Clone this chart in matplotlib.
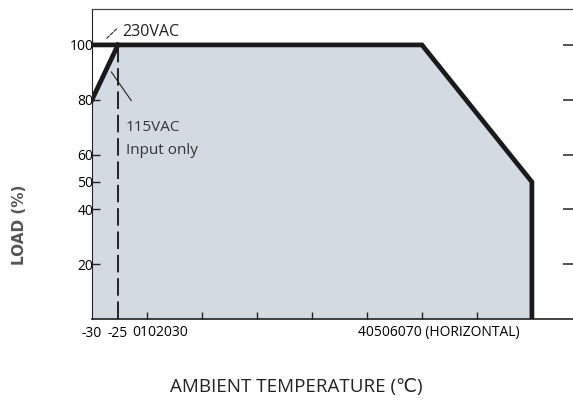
import matplotlib.pyplot as plt
import numpy as np

# данные кривой снижения нагрузки
temp_230 = [-30, 50, 70, 70]
load_230 = [100, 100, 50, 0]
temp_115 = [-30, -25]
load_115 = [80, 100]
temp_fill = [-30, -25, 50, 70]
load_fill = [80, 100, 100, 50]
cutoff_temp = -25

x_major = [-30, -25]
x_major_labels = ["-30", "-25"]
x_minor = [0, 10, 20, 30, 40, 50, 60]
y_ticks = [20, 40, 50, 60, 80, 100]
y_right_ticks = [20, 40, 60, 80, 100]

plt.rcParams['font.family'] = ['Open Sans', 'DejaVu Sans']


# шкала на рисунке неравномерная: отрезок -30..-25 и -25..0 сжаты
def fwd(t):
    t = np.asarray(t, dtype=float)
    return np.where(t < -25, (t + 30) * 5.2,
                    np.where(t < 0, 26 + (t + 25) * 29 / 25, 55 + t * 5.5))


def inv(p):
    p = np.asarray(p, dtype=float)
    return np.where(p < 26, p / 5.2 - 30,
                    np.where(p < 55, (p - 26) * 25 / 29 - 25, (p - 55) / 5.5))


fig = plt.figure(figsize=(5.73, 4.03), dpi=100)
ax = fig.add_axes([92 / 573, 1 - 319 / 403, 485 / 573, 310 / 403])
ax.set_xscale('function', functions=(fwd, inv))
ax.set_xlim(-30, 78.2)
ax.set_ylim(0, 113.1)

ax.fill_between(temp_fill, load_fill, 0, color='#d3dae2', lw=0)
ax.vlines(cutoff_temp, 0, 100, color='#222222', lw=1.4, linestyles=(0, (9, 3)))
ax.plot(temp_230, load_230, color='#1a1a1a', lw=3.4, solid_joinstyle='miter')
ax.plot(temp_115, load_115, color='#1a1a1a', lw=3.4)

# подписи
ax.annotate("", xy=(-27.6, 101.6), xytext=(-24.6, 106.5),
            arrowprops=dict(arrowstyle='-', color='#222222', lw=0.8, linestyle=(0, (3, 1.5))))
ax.text(-20.9, 104.7, "230VAC", fontsize=11.5, va='center', ha='left', color='#222222')
ax.annotate("", xy=(-26.6, 91), xytext=(-12.1, 78.8),
            arrowprops=dict(arrowstyle='-', color='#222222', lw=0.8))
ax.text(-18.1, 69.7, "115VAC", fontsize=11, va='center', ha='left', color='#333333')
ax.text(-18.1, 61.4, "Input only", fontsize=11, va='center', ha='left', color='#333333')

ax.set_xticks(x_major)
ax.set_xticklabels(x_major_labels, fontsize=10)
ax.set_xticks(x_minor, minor=True)
ax.tick_params(axis='x', which='major', length=0, pad=5)
ax.tick_params(axis='x', which='minor', direction='in', length=5, width=1, color='#222222')
tb = ax.get_xaxis_transform()
ax.text(2.3, -0.045, "0102030", transform=tb, ha='center', va='center', fontsize=10)
ax.text(53, -0.045, "40506070 (HORIZONTAL)", transform=tb, ha='center', va='center', fontsize=10)

ax.set_yticks(y_ticks)
ax.tick_params(axis='y', which='major', direction='in', length=6, width=1, pad=-1,
               labelsize=10, color='#222222')
ax.yaxis.set_minor_locator(plt.NullLocator())
ax.xaxis.set_minor_formatter(plt.NullFormatter())

ax2 = ax.twinx()
ax2.set_ylim(0, 113.1)
ax2.set_yticks(y_right_ticks)
ax2.tick_params(axis='y', direction='in', length=10, width=1.2, color='#333333', labelright=False)
for s in ax2.spines.values():
    s.set_visible(False)

for side in ['top', 'right']:
    ax.spines[side].set_color('#444444')
    ax.spines[side].set_linewidth(0.9)
ax.spines['left'].set_color('#222222')
ax.spines['bottom'].set_color('#222222')
ax.spines['bottom'].set_linewidth(1.2)

fig.text(20 / 573, 1 - 225 / 403, "LOAD (%)", rotation=90, ha='center', va='center',
         fontsize=11, fontweight='bold', family='DejaVu Sans', color='#555555')
fig.text(296 / 573, 1 - 387 / 403, "AMBIENT TEMPERATURE (℃)", ha='center', va='center',
         fontsize=13.5, color='#222222')

fig.savefig("out.png", dpi=100)
